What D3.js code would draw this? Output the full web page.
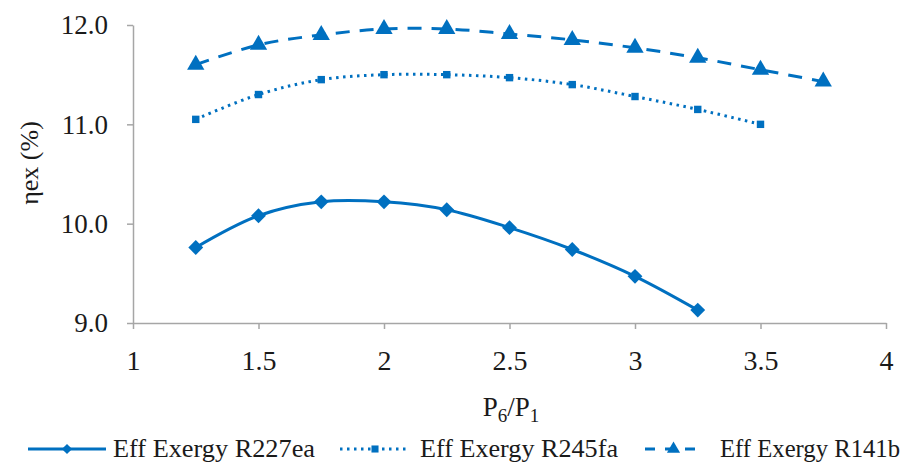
<!DOCTYPE html>
<html><head><meta charset="utf-8">
<script src="https://cdn.jsdelivr.net/npm/d3@7"></script>
<style>body{margin:0;background:#fff}svg{display:block}</style>
</head><body>
<svg id="c" width="909" height="468"></svg>
<script>
const xValues = [1.25,1.5,1.75,2,2.25,2.5,2.75,3,3.25,3.5,3.75];
const r227ea = [9.76,10.08,10.22,10.22,10.14,9.96,9.74,9.47,9.13];
const r245fa = [11.05,11.30,11.45,11.50,11.50,11.47,11.40,11.28,11.15,11.00];
const r141b  = [11.60,11.80,11.90,11.96,11.96,11.91,11.85,11.77,11.67,11.55,11.43];
const seriesNames = ["Eff Exergy R227ea","Eff Exergy R245fa","Eff Exergy R141b"];
const xTicks = [1,1.5,2,2.5,3,3.5,4];
const yTicks = [9,10,11,12];

const color = "#0070C0", axisColor = "#a6a6a6", textColor = "#1a1a1a";
const svg = d3.select("#c");
const x = d3.scaleLinear().domain([1,4]).range([133,886]);
const y = d3.scaleLinear().domain([9,12]).range([323,25]);

const serif = "'Liberation Serif','DejaVu Serif',serif";

// axes
const xa = svg.append("g").attr("transform","translate(0,323)")
  .call(d3.axisBottom(x).tickValues(xTicks).tickFormat(d3.format("")).tickSize(6).tickSizeOuter(0));
xa.select(".domain").attr("stroke",axisColor).attr("stroke-width",1.5);
xa.selectAll(".tick line").attr("stroke",axisColor).attr("stroke-width",1.5);
xa.selectAll(".tick text").attr("fill",textColor).attr("font-family",serif).attr("font-size",28)
  .attr("y",0).attr("dy",0).attr("transform","translate(0,47)");

const ya = svg.append("g").attr("transform","translate(133,0)")
  .call(d3.axisLeft(y).tickValues(yTicks).tickFormat(d3.format(".1f")).tickSize(6).tickSizeOuter(0));
ya.select(".domain").attr("stroke",axisColor).attr("stroke-width",1.5);
ya.selectAll(".tick line").attr("stroke",axisColor).attr("stroke-width",1.5);
ya.selectAll(".tick text").attr("fill",textColor).attr("font-family",serif).attr("font-size",27).attr("x",-25).attr("dy","0.33em");

// labels
svg.append("text").attr("x",511).attr("y",416).attr("text-anchor","middle")
  .attr("font-family",serif).attr("font-size",27).attr("fill",textColor)
  .html('P<tspan dy="6" font-size="19">6</tspan><tspan dy="-6">/P</tspan><tspan dy="6" font-size="19">1</tspan>');
svg.append("text").attr("transform","translate(38,163) rotate(-90)").attr("text-anchor","middle")
  .attr("font-family",serif).attr("font-size",26).attr("fill",textColor).text("ηex (%)");

// series
const data = [r227ea, r245fa, r141b].map((vals,i)=>({name:seriesNames[i], pts: vals.map((v,j)=>[xValues[j],v])}));
const dashes = [null,"2.5,4.5","14,10"];
const symbols = [d3.symbolSquare, d3.symbolSquare, d3.symbolTriangle];
const rot = [45,0,0];
const symSizes = [110, 55, 130];
const line = d3.line().x(d=>x(d[0])).y(d=>y(d[1])).curve(d3.curveCatmullRom.alpha(0.5));

data.forEach((s,i)=>{
  svg.append("path").attr("d",line(s.pts)).attr("fill","none").attr("stroke",color)
    .attr("stroke-width",3).attr("stroke-dasharray",dashes[i]);
  svg.append("g").selectAll("path").data(s.pts).join("path")
    .attr("transform",d=>`translate(${x(d[0])},${y(d[1])}) rotate(${rot[i]})`)
    .attr("d",d3.symbol().type(symbols[i]).size(symSizes[i])).attr("fill",color);
});

// legend
const legLine = [[28,106],[340,410],[645,702]];
const legText = [[113,315],[420,618],[720,900]];
const legSym = [52,50,75];
const legDash = [null,"2.5,4.5","10,10"];
data.forEach((s,i)=>{
  const g = svg.append("g").attr("transform","translate(0,449)");
  const [a,b] = legLine[i];
  g.append("line").attr("x1",a).attr("x2",b).attr("stroke",color).attr("stroke-width",3).attr("stroke-dasharray",legDash[i]);
  g.append("path").attr("transform",`translate(${(a+b)/2},0) rotate(${rot[i]})`)
    .attr("d",d3.symbol().type(symbols[i]).size(legSym[i])).attr("fill",color);
  g.append("text").attr("x",legText[i][0]).attr("y",8).attr("font-family",serif).attr("font-size",25)
    .attr("fill",textColor).attr("textLength",legText[i][1]-legText[i][0]).attr("lengthAdjust","spacingAndGlyphs").text(s.name);
});
</script>
</body></html>
